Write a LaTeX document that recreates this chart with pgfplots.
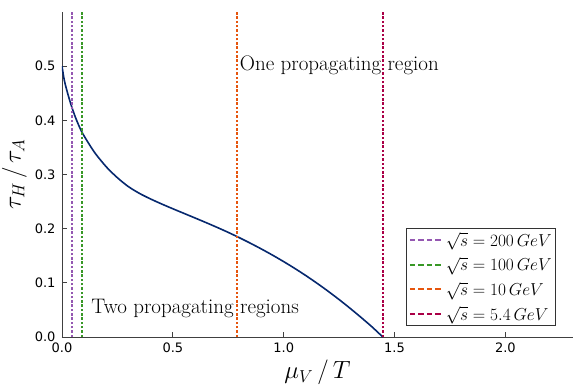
\documentclass[border=0pt]{standalone}
\usepackage{pgfplots}
\pgfplotsset{compat=1.18}
\usepackage{fontspec}
\newfontfamily\tickfont{DejaVu Sans}
\definecolor{cpurple}{RGB}{149,88,178}
\definecolor{cgreen}{RGB}{56,152,38}
\definecolor{corange}{RGB}{230,85,13}
\definecolor{ccrimson}{RGB}{170,0,70}
\definecolor{cnavy}{RGB}{6,40,110}
\begin{document}
\begin{tikzpicture}
\useasboundingbox (-62pt,-52pt) rectangle (522pt,337pt);
\begin{axis}[
  scale only axis,
  width=511pt, height=325pt,
  xmin=0, xmax=2.305, ymin=0, ymax=0.6,
  axis x line=bottom, axis y line=left,
  axis line style={-, line width=0.8pt, black!75},
  tick style={line width=0.7pt, black!75},
  tick align=inside,
  major tick length=5pt,
  xtick={0,0.5,1,1.5,2}, ytick={0,0.1,0.2,0.3,0.4,0.5},
  minor tick num=0,
  /pgf/number format/.cd, fixed, fixed zerofill, precision=1, assume math mode=true,
  /pgfplots/.cd,
  tick label style={font=\tickfont\fontsize{13}{15}\selectfont, black},
  xticklabel style={yshift=-2pt},
  yticklabel style={xshift=-3pt},
  xlabel={$\mu_V\,/\,T$},
  ylabel={$\tau_H\,/\,\tau_A$},
  label style={font=\fontsize{25}{28}\selectfont, inner sep=0pt},
  xlabel style={at={(axis description cs:0.5,0)}, anchor=north, yshift=-23pt},
  ylabel style={at={(axis description cs:0,0.5)}, anchor=south, yshift=35pt},
  legend style={at={(1,0)}, anchor=south east, xshift=-17pt, yshift=11pt,
    font=\fontsize{16}{18}\selectfont, draw=black!80, line width=0.7pt,
    inner sep=2pt, row sep=5.5pt, cells={anchor=west}},
  legend image code/.code={\draw[#1, dash pattern=on 5.5pt off 3pt, line width=2pt] (0pt,0pt) -- (33pt,0pt);},
]
\addplot[cnavy, line width=1.6pt, smooth, forget plot] coordinates {
(0,0.5) (0.01,0.4748) (0.021,0.4566) (0.033,0.4392) (0.046,0.4223) (0.06,0.4062)
(0.075,0.3912) (0.092,0.3766) (0.12,0.3576) (0.15,0.339) (0.2,0.314)
(0.25,0.294) (0.3,0.2775) (0.35,0.265) (0.4,0.25475) (0.45,0.2455)
(0.5,0.23675) (0.55,0.22825) (0.6,0.21975) (0.65,0.21115) (0.7,0.2023)
(0.75,0.1931) (0.8,0.18335) (0.85,0.1731) (0.9,0.16235) (0.95,0.15105)
(1.0,0.13915) (1.05,0.1266) (1.1,0.11335) (1.15,0.09935) (1.2,0.0846)
(1.25,0.0691) (1.3,0.0528) (1.35,0.0358) (1.4,0.0181) (1.447,0.0)};
\addplot[cpurple, line width=1.8pt, dash pattern=on 2.5pt off 1.8pt] coordinates {(0.046,0) (0.046,0.6)};
\addlegendentry{$\sqrt{s}=200\,GeV$}
\addplot[cgreen, line width=1.8pt, dash pattern=on 2.5pt off 1.8pt] coordinates {(0.092,0) (0.092,0.6)};
\addlegendentry{$\sqrt{s}=100\,GeV$}
\addplot[corange, line width=1.8pt, dash pattern=on 2.5pt off 1.8pt] coordinates {(0.788,0) (0.788,0.6)};
\addlegendentry{$\sqrt{s}=10\,GeV$}
\addplot[ccrimson, line width=1.8pt, dash pattern=on 2.5pt off 1.8pt] coordinates {(1.447,0) (1.447,0.6)};
\addlegendentry{$\sqrt{s}=5.4\,GeV$}
\node[anchor=west, font=\fontsize{21}{24}\selectfont, inner sep=0pt] at (axis cs:0.802,0.502) {One propagating region};
\node[anchor=west, font=\fontsize{21}{24}\selectfont, inner sep=0pt] at (axis cs:0.132,0.052) {Two propagating regions};
\end{axis}
\end{tikzpicture}
\end{document}
